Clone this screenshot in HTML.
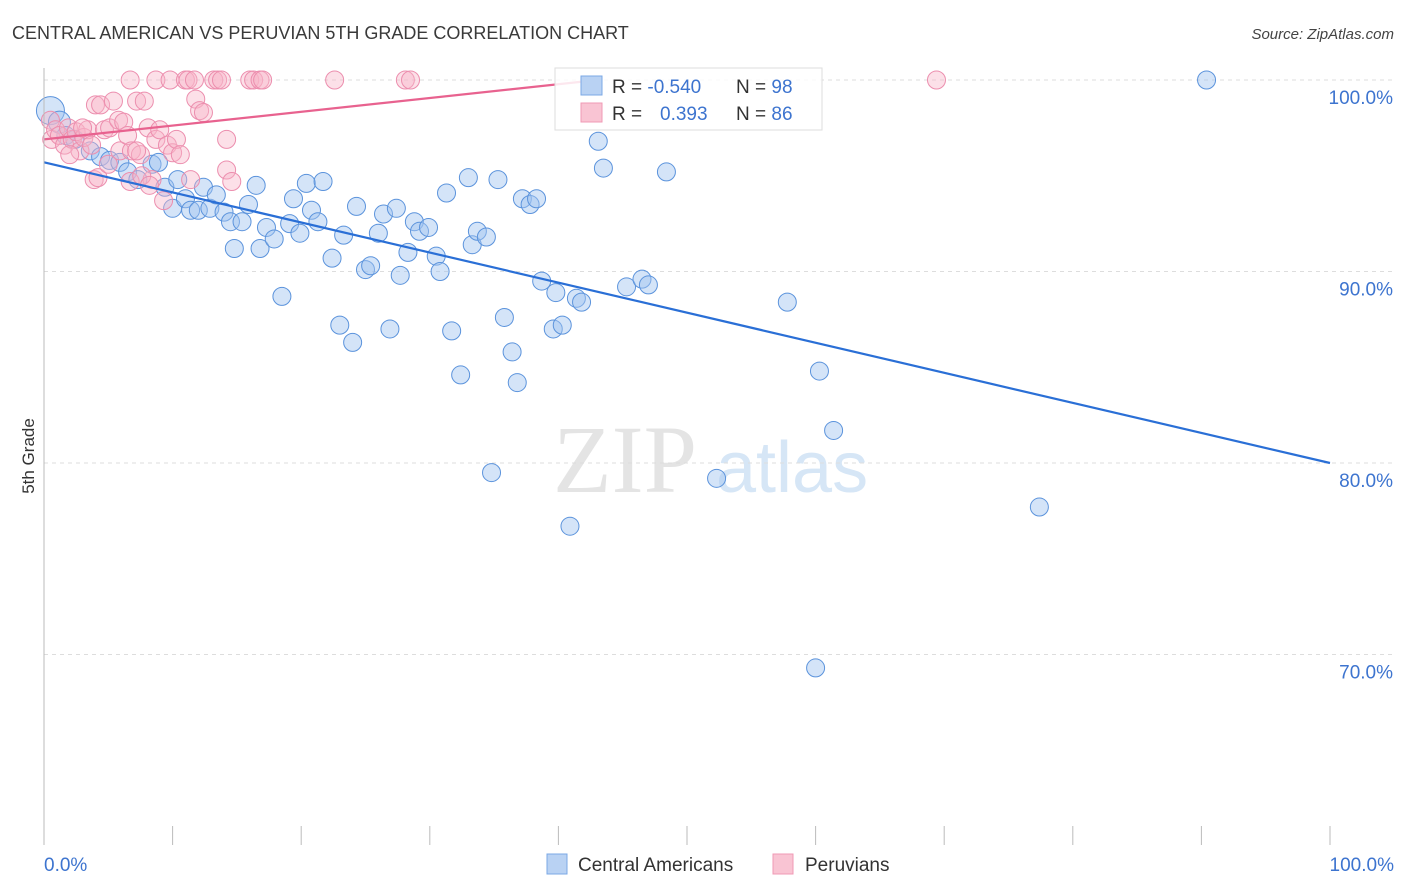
<!DOCTYPE html>
<html><head><meta charset="utf-8"><style>
body{margin:0;background:#fff;font-family:"Liberation Sans",sans-serif}
svg{display:block}
</style></head><body>
<svg width="1406" height="892" id="chart" font-family="Liberation Sans, sans-serif">
<text x="12" y="39" font-size="18" fill="#3a3a3a">CENTRAL AMERICAN VS PERUVIAN 5TH GRADE CORRELATION CHART</text>
<text x="1394" y="39" font-size="15" fill="#444" text-anchor="end" font-style="italic">Source: ZipAtlas.com</text>
<text x="34" y="456" font-size="17" fill="#333" text-anchor="middle" transform="rotate(-90 34 456)">5th Grade</text>
<g><text x="553" y="492" font-size="96" font-family="Liberation Serif, serif" fill="#e4e4e4">ZIP</text><text x="716" y="492" font-size="72" fill="#d6e6f6">atlas</text></g>
<g id="grid"></g><g id="marks"></g><g id="lines"></g>
<line x1="44" y1="68" x2="44" y2="845" stroke="#bbb"/>
<g>
<rect x="555" y="68" width="267" height="62" fill="#fff" fill-opacity="0.85" stroke="#ddd"/>
<rect x="581" y="76" width="21" height="19" fill="#b9d2f3" stroke="#7ba8e6"/>
<rect x="581" y="103" width="21" height="19" fill="#f9c4d3" stroke="#f09ab5"/>
<text x="612" y="93" font-size="19" fill="#333">R = <tspan fill="#3d74cf">-0.540</tspan></text>
<text x="736" y="93" font-size="19" fill="#333">N = <tspan fill="#3d74cf">98</tspan></text>
<text x="612" y="120" font-size="19" fill="#333">R = <tspan fill="#3d74cf" x="660">0.393</tspan></text>
<text x="736" y="120" font-size="19" fill="#333">N = <tspan fill="#3d74cf">86</tspan></text>
</g>
<g>
<rect x="547" y="854" width="20" height="20" fill="#b9d2f3" stroke="#7ba8e6"/>
<text x="578" y="871" font-size="19" fill="#333">Central Americans</text>
<rect x="773" y="854" width="20" height="20" fill="#f9c4d3" stroke="#f09ab5"/>
<text x="805" y="871" font-size="19" fill="#333">Peruvians</text>
</g>
</svg>
<script>
const yTicks=[100,90,80,70];
const xTickLabels=["0.0%","100.0%"];
const blueX=[0.5,1.2,1.7,2.4,3.6,4.4,5.1,5.9,6.5,7.3,8.4,8.9,9.4,10.0,10.4,11.0,11.4,12.0,12.4,12.9,13.4,14.0,14.5,14.8,15.4,15.9,16.5,16.8,17.3,17.9,18.5,19.1,19.4,19.9,20.4,20.8,21.3,21.7,22.4,23.0,23.3,24.0,24.3,25.0,25.4,26.0,26.4,26.9,27.4,27.7,28.3,28.8,29.2,29.9,30.5,30.8,31.3,31.7,32.4,33.0,33.3,33.7,34.4,34.8,35.3,35.8,36.4,36.8,37.2,37.8,38.3,38.7,39.6,39.8,40.3,40.9,41.4,41.8,43.1,43.5,45.3,46.5,47.0,48.4,52.3,57.8,60.0,60.3,61.4,77.4,90.4];
const blueY=[98.4,97.8,97.1,96.9,96.3,96.0,95.8,95.7,95.2,94.8,95.6,95.7,94.4,93.3,94.8,93.8,93.2,93.2,94.4,93.3,94.0,93.1,92.6,91.2,92.6,93.5,94.5,91.2,92.3,91.7,88.7,92.5,93.8,92.0,94.6,93.2,92.6,94.7,90.7,87.2,91.9,86.3,93.4,90.1,90.3,92.0,93.0,87.0,93.3,89.8,91.0,92.6,92.1,92.3,90.8,90.0,94.1,86.9,84.6,94.9,91.4,92.1,91.8,79.5,94.8,87.6,85.8,84.2,93.8,93.5,93.8,89.5,87.0,88.9,87.2,76.7,88.6,88.4,96.8,95.4,89.2,89.6,89.3,95.2,79.2,88.4,69.3,84.8,81.7,77.7,100.0];
const pinkX=[6.7,8.7,9.8,11.0,11.2,11.7,13.2,13.5,13.8,16.0,16.3,16.8,17.0,22.6,28.1,28.5,69.4,0.5,0.6,0.9,1.2,1.6,1.9,2.2,2.5,2.8,3.1,3.4,3.7,4.0,4.4,4.7,5.1,5.4,5.8,5.9,6.2,6.5,6.8,7.2,7.5,7.8,8.1,8.4,8.7,9.0,9.3,9.6,10.0,10.3,10.6,11.4,11.8,12.1,12.4,14.2,14.2,14.6,3.9,4.2,5.0,6.7,7.2,7.6,8.2,2.0,3.0];
const pinkY=[100,100,100,100,100,100,100,100,100,100,100,100,100,100,100,100,100,97.9,96.9,97.4,97.1,96.6,97.5,96.9,97.3,96.3,97.0,97.4,96.6,98.7,98.7,97.4,97.5,98.9,97.9,96.3,97.8,97.1,96.3,98.9,96.1,98.9,97.5,94.8,96.9,97.4,93.7,96.6,96.2,96.9,96.1,94.8,99.0,98.4,98.3,96.9,95.3,94.7,94.8,94.9,95.6,94.7,96.3,95.0,94.5,96.1,97.5];
const blueTrend=[95.7,80.0];
const pinkTrend=[96.9,104.1];
const NS="http://www.w3.org/2000/svg";
const sx=v=>44+v*12.86, sy=v=>80+(100-v)*19.15;
function mk(t,a,p){const e=document.createElementNS(NS,t);for(const k in a)e.setAttribute(k,a[k]);p.appendChild(e);return e;}
const grid=document.getElementById('grid'),marks=document.getElementById('marks'),lines=document.getElementById('lines');
yTicks.forEach(t=>{
 const l=mk('line',{x1:44,x2:1394,y1:sy(t),y2:sy(t),stroke:'#ddd','stroke-dasharray':'4,4'},grid);
 
 
 const tx=mk('text',{x:1393,y:sy(t)+24,'font-size':19,fill:'#3d74cf','text-anchor':'end'},grid);tx.textContent=t.toFixed(1)+'%';
 
 
});
for(let i=0;i<=10;i++){const l=mk('line',{x1:sx(i*10),x2:sx(i*10),y1:826,y2:845,stroke:'#bbb'},grid);
 
 }
[[0,'start',44],[100,'end',1394]].forEach((d,i)=>{const t=mk('text',{x:d[2],y:871,'font-size':19,fill:'#3d74cf','text-anchor':d[1]},grid);t.textContent=xTickLabels[i];
 
 });
blueX.forEach((x,i)=>{const c=mk('circle',{cx:sx(x),cy:sy(blueY[i]),r:i<2?(i==0?14:11):9,fill:'rgba(160,196,240,0.45)',stroke:'#5b93dc','stroke-width':1},marks);
 
 });
pinkX.forEach((x,i)=>{const c=mk('circle',{cx:sx(x),cy:sy(pinkY[i]),r:9,fill:'rgba(248,180,200,0.42)',stroke:'#ec8eae','stroke-width':1},marks);
 
 });
const bl=mk('line',{x1:sx(0),y1:sy(blueTrend[0]),x2:sx(100),y2:sy(blueTrend[1]),stroke:'#2a6fd6','stroke-width':2.2},lines);


const xe=(100-pinkTrend[0])/(pinkTrend[1]-pinkTrend[0])*100;
const pl=mk('line',{x1:sx(0),y1:sy(pinkTrend[0]),x2:sx(xe),y2:sy(100),stroke:'#e8628f','stroke-width':2.2},lines);


</script>
</body></html>
